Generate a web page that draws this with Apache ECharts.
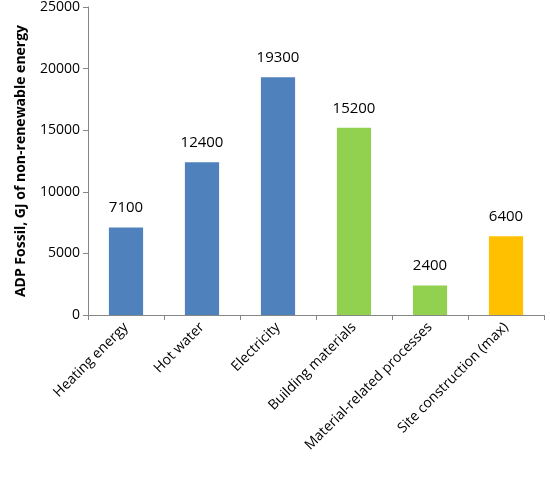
<!DOCTYPE html>
<html>
<head>
<meta charset="utf-8">
<script src="https://cdn.jsdelivr.net/npm/echarts@6/dist/echarts.min.js"></script>
<style>html,body{margin:0;padding:0;background:#fff}#chart{width:550px;height:485px}</style>
</head>
<body>
<div id="chart"></div>
<script>
const categories = ['Heating energy', 'Hot water', 'Electricity', 'Building materials', 'Material-related processes', 'Site construction (max)'];
const values = [7100, 12400, 19300, 15200, 2400, 6400];
const barColors = ['#4F81BD', '#4F81BD', '#4F81BD', '#92D050', '#92D050', '#FFC000'];

const chart = echarts.init(document.getElementById('chart'));
chart.setOption({
    animation: false,
    textStyle: { fontFamily: 'Open Sans, Liberation Sans, sans-serif' },
    grid: { left: 88, right: 6, top: 7, bottom: 170 },
    xAxis: {
        type: 'category',
        data: categories,
        axisLine: { lineStyle: { color: '#868686' } },
        axisTick: { show: true, length: 5, lineStyle: { color: '#868686' } },
        axisLabel: { rotate: 45, color: '#000', fontSize: 14, interval: 0, margin: 10 }
    },
    yAxis: {
        type: 'value',
        min: 0, max: 25000, interval: 5000,
        name: 'ADP Fossil, GJ of non-renewable energy',
        nameLocation: 'middle',
        nameGap: 60,
        nameTextStyle: { fontWeight: 'bold', fontSize: 14, color: '#000' },
        axisLine: { show: true, lineStyle: { color: '#868686' } },
        axisTick: { show: true, length: 5, lineStyle: { color: '#868686' } },
        splitLine: { show: false },
        axisLabel: { color: '#000', fontSize: 14, formatter: v => String(v) }
    },
    series: [{
        type: 'bar',
        barWidth: '45%',
        data: values.map((v, i) => ({ value: v, itemStyle: { color: barColors[i] } })),
        label: { show: true, position: 'top', distance: 12, color: '#000', fontSize: 15 }
    }]
});
</script>
</body>
</html>
